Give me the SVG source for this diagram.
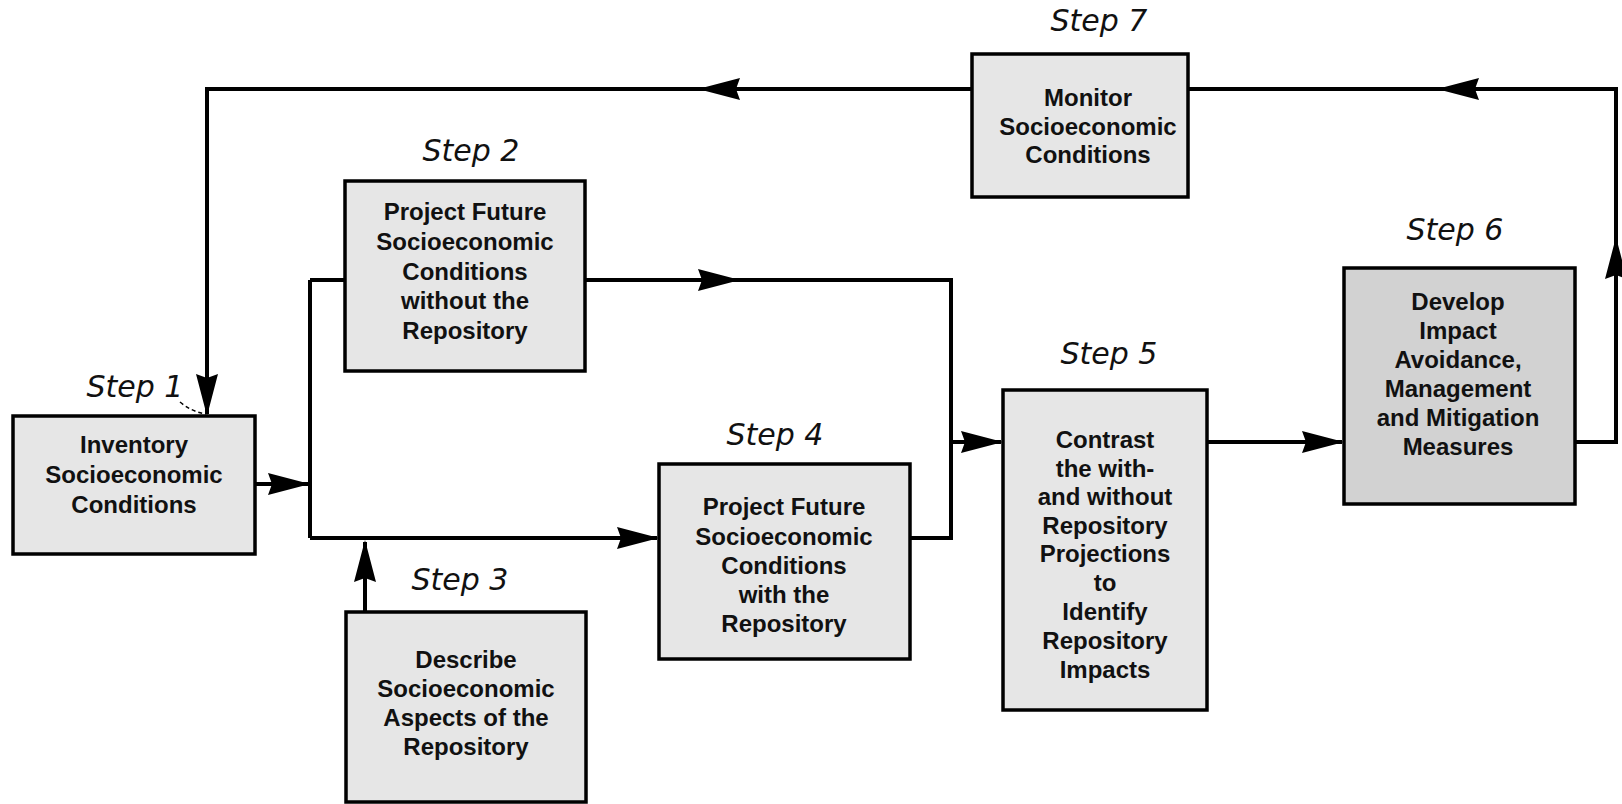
<svg xmlns="http://www.w3.org/2000/svg" xmlns:xlink="http://www.w3.org/1999/xlink" width="1622" height="804" viewBox="0 0 1622 804">
<style>
.box{fill:#e6e6e6;stroke:#000;stroke-width:3.5}
.dark{fill:#d2d2d2}
.lbl{font-family:"Liberation Sans",Arial,sans-serif;font-weight:bold;font-size:24px;fill:#111;text-anchor:middle}
.step{font-family:"DejaVu Sans",sans-serif;font-style:oblique;font-size:30px;fill:#111;text-anchor:middle}
.wire{fill:none;stroke:#000;stroke-width:4;stroke-linejoin:miter}
.ah{fill:#000}
</style>
<defs>
<path id="ah" d="M0,0 L-42,-11 L-38,0 L-42,11 Z"/>
</defs>
<rect width="1622" height="804" fill="#fff"/>
<g id="connectors">
<path class="wire" d="M255,484 H308"/>
<path class="wire" d="M310,280 V538"/>
<path class="wire" d="M310,280 H345"/>
<path class="wire" d="M585,280 H951 V538 H910"/>
<path class="wire" d="M310,538 H657"/>
<path class="wire" d="M365,612 V542"/>
<path class="wire" d="M951,442 H1001"/>
<path class="wire" d="M1207,442 H1342"/>
<path class="wire" d="M1575,442 H1616 V89 H1188"/>
<path class="wire" d="M972,89 H207 V414"/>
<path d="M180,402 Q192,412 206,414" fill="none" stroke="#000" stroke-width="1.5" stroke-dasharray="4 3"/>
<g class="ah">
<use xlink:href="#ah" transform="translate(310,484)"/>
<use xlink:href="#ah" transform="translate(740,280)"/>
<use xlink:href="#ah" transform="translate(659,538)"/>
<use xlink:href="#ah" transform="translate(365,540) rotate(-90)"/>
<use xlink:href="#ah" transform="translate(1003,442)"/>
<use xlink:href="#ah" transform="translate(1344,442)"/>
<use xlink:href="#ah" transform="translate(1616,237) rotate(-90)"/>
<use xlink:href="#ah" transform="translate(1437,89) rotate(180)"/>
<use xlink:href="#ah" transform="translate(698,89) rotate(180)"/>
<use xlink:href="#ah" transform="translate(207,416) rotate(90)"/>
</g>
</g>
<g id="step1">
<text class="step" x="135" y="397">Step 1</text>
<rect class="box" x="13" y="416" width="242" height="138"/>
<text class="lbl" x="134" y="453">Inventory</text>
<text class="lbl" x="134" y="483">Socioeconomic</text>
<text class="lbl" x="134" y="513">Conditions</text>
</g>
<g id="step2">
<text class="step" x="471" y="161">Step 2</text>
<rect class="box" x="345" y="181" width="240" height="190"/>
<text class="lbl" x="465" y="220">Project Future</text>
<text class="lbl" x="465" y="250">Socioeconomic</text>
<text class="lbl" x="465" y="280">Conditions</text>
<text class="lbl" x="465" y="309">without the</text>
<text class="lbl" x="465" y="339">Repository</text>
</g>
<g id="step3">
<text class="step" x="460" y="590">Step 3</text>
<rect class="box" x="346" y="612" width="240" height="190"/>
<text class="lbl" x="466" y="668">Describe</text>
<text class="lbl" x="466" y="697">Socioeconomic</text>
<text class="lbl" x="466" y="726">Aspects of the</text>
<text class="lbl" x="466" y="755">Repository</text>
</g>
<g id="step4">
<text class="step" x="775" y="445">Step 4</text>
<rect class="box" x="659" y="464" width="251" height="195"/>
<text class="lbl" x="784" y="515">Project Future</text>
<text class="lbl" x="784" y="545">Socioeconomic</text>
<text class="lbl" x="784" y="574">Conditions</text>
<text class="lbl" x="784" y="603">with the</text>
<text class="lbl" x="784" y="632">Repository</text>
</g>
<g id="step5">
<text class="step" x="1109" y="364">Step 5</text>
<rect class="box" x="1003" y="390" width="204" height="320"/>
<text class="lbl" x="1105" y="448">Contrast</text>
<text class="lbl" x="1105" y="477">the with-</text>
<text class="lbl" x="1105" y="505">and without</text>
<text class="lbl" x="1105" y="534">Repository</text>
<text class="lbl" x="1105" y="562">Projections</text>
<text class="lbl" x="1105" y="591">to</text>
<text class="lbl" x="1105" y="620">Identify</text>
<text class="lbl" x="1105" y="649">Repository</text>
<text class="lbl" x="1105" y="678">Impacts</text>
</g>
<g id="step6">
<text class="step" x="1455" y="240">Step 6</text>
<rect class="box dark" x="1344" y="268" width="231" height="236"/>
<text class="lbl" x="1458" y="310">Develop</text>
<text class="lbl" x="1458" y="339">Impact</text>
<text class="lbl" x="1458" y="368">Avoidance,</text>
<text class="lbl" x="1458" y="397">Management</text>
<text class="lbl" x="1458" y="426">and Mitigation</text>
<text class="lbl" x="1458" y="455">Measures</text>
</g>
<g id="step7">
<text class="step" x="1099" y="31">Step 7</text>
<rect class="box" x="972" y="54" width="216" height="143"/>
<text class="lbl" x="1088" y="106">Monitor</text>
<text class="lbl" x="1088" y="135">Socioeconomic</text>
<text class="lbl" x="1088" y="163">Conditions</text>
</g>
</svg>
